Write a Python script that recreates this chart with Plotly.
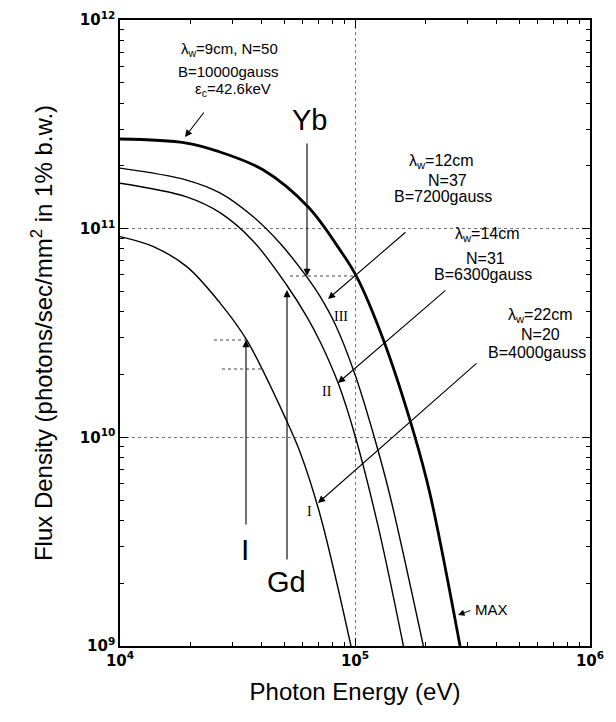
import math
import plotly.graph_objects as go

# ---- data (photon energy in eV, flux density) ----
max_energy = [10000, 18920, 25760, 40740, 63240, 86300, 101600, 131800, 177000, 208400, 279900]
max_flux = [2.69e11, 2.58e11, 2.36e11, 1.91e11, 1.27e11, 7.91e10, 5.89e10, 2.95e10, 1.07e10, 5.37e9, 1.0e9]

iii_energy = [10000, 19190, 26730, 36900, 47970, 62230, 70790, 83180, 100000, 121600, 140900, 195400]
iii_flux = [1.95e11, 1.71e11, 1.48e11, 1.14e11, 8.51e10, 5.89e10, 4.76e10, 3.40e10, 2.00e10, 9.77e9, 5.25e9, 1.0e9]

ii_energy = [10000, 19190, 26730, 36900, 51170, 62230, 70960, 84920, 100000, 125600, 160700]
ii_flux = [1.65e11, 1.42e11, 1.19e11, 8.71e10, 5.37e10, 3.80e10, 2.88e10, 1.81e10, 1.02e10, 3.72e9, 1.0e9]

i_energy = [10000, 13870, 19230, 26670, 34590, 51170, 58340, 70960, 96160]
i_flux = [9.16e10, 8.20e10, 6.58e10, 4.40e10, 2.93e10, 1.20e10, 8.51e9, 4.27e9, 1.0e9]

x_tick_values = [1e4, 1e5, 1e6]
y_tick_values = [1e9, 1e10, 1e11, 1e12]


def power_label(v):
    return "10<sup>%d</sup>" % round(math.log10(v))


# ---- layout geometry (page has an 8px body margin) ----
OFF = 8
PAGE_L, PAGE_R, PAGE_T, PAGE_B = 120, 590, 20, 646
W, H = 616 - OFF, 722 - OFF
L, T = PAGE_L - OFF, PAGE_T - OFF
R = W - (PAGE_R - OFF)
B = H - (PAGE_B - OFF)


def px(x, y):
    return (x - PAGE_L) / (PAGE_R - PAGE_L), (PAGE_B - y) / (PAGE_B - PAGE_T)


fig = go.Figure()
for xs, ys, w in [(max_energy, max_flux, 2.8), (iii_energy, iii_flux, 1.4),
                  (ii_energy, ii_flux, 1.4), (i_energy, i_flux, 1.4)]:
    fig.add_trace(go.Scatter(x=xs, y=ys, mode="lines",
                             line=dict(color="black", width=w, shape="spline", smoothing=1.0),
                             showlegend=False, hoverinfo="skip", cliponaxis=True))

FONT = "Liberation Sans, Arial, sans-serif"
annotations = []


def text(x, y, s, size=16, family=FONT, xanchor="center"):
    xp, yp = px(x, y)
    annotations.append(dict(x=xp, y=yp, xref="paper", yref="paper", text=s, showarrow=False,
                            font=dict(family=family, size=size, color="black"),
                            xanchor=xanchor, yanchor="middle"))


def arrow(tail, tip, head=2, width=1.1):
    xp, yp = px(*tip)
    annotations.append(dict(x=xp, y=yp, xref="paper", yref="paper", text="",
                            showarrow=True, arrowhead=head, arrowsize=1.3, arrowwidth=width,
                            arrowcolor="black", axref="pixel", ayref="pixel",
                            ax=tail[0] - tip[0], ay=tail[1] - tip[1], standoff=0, startstandoff=0))


# top-left label block (MAX curve)
text(229, 50, "λ<sub>w</sub>=9cm, N=50", size=15)
text(228, 71, "B=10000gauss", size=15)
text(233, 89, "ε<sub>c</sub>=42.6keV", size=15)
arrow((205, 111), (185, 137))

# λ=12cm block
text(441, 161, "λ<sub>w</sub>=12cm")
text(447, 180, "N=37")
text(443, 197, "B=7200gauss")
arrow((407, 231), (328, 299))
text(341, 316, "III", size=14, family="Liberation Serif, serif")

# λ=14cm block
text(487, 235, "λ<sub>w</sub>=14cm")
text(485, 258, "N=31")
text(483, 274, "B=6300gauss")
arrow((447, 289), (338, 383))
text(327, 392, "II", size=14, family="Liberation Serif, serif")

# λ=22cm block
text(540, 315, "λ<sub>w</sub>=22cm")
text(540, 335, "N=20")
text(537, 352, "B=4000gauss")
arrow((478, 362), (318, 503))
text(309, 511, "I", size=14, family="Liberation Serif, serif")

# K-edge markers
text(309, 120, "Yb", size=29)
arrow((307, 142), (307, 276))
text(245, 549, "I", size=30)
arrow((246, 526), (246, 340))
text(286, 582, "Gd", size=29)
arrow((287, 561), (287, 290))

# MAX marker
text(473, 609, "MAX", size=15, xanchor="left")
arrow((472, 610), (458, 615), width=1)

shapes = []
for (x0, x1, y) in [(290, 357, 276), (214, 246, 340), (222, 263, 369)]:
    a0, b0 = px(x0, y)
    a1, _ = px(x1, y)
    shapes.append(dict(type="line", xref="paper", yref="paper", x0=a0, x1=a1, y0=b0, y1=b0,
                       line=dict(color="#444", width=1, dash="dot")))

axis_common = dict(
    type="log", showline=True, linecolor="black", linewidth=1.5, mirror="allticks",
    ticks="inside", ticklen=8, tickwidth=1.2, tickcolor="black",
    showgrid=True, gridcolor="#777", griddash="dot", gridwidth=1,
    zeroline=False,
    tickfont=dict(family="DejaVu Sans", size=15, color="black", weight="bold"),
    minor=dict(ticks="inside", ticklen=4, tickwidth=1, tickcolor="black", showgrid=False, dtick="D1"),
)

fig.update_layout(
    width=W, height=H, margin=dict(l=L, r=R, t=T, b=B, autoexpand=False),
    paper_bgcolor="white", plot_bgcolor="white",
    xaxis=dict(axis_common, range=[4, 6], tickvals=x_tick_values,
               ticktext=[power_label(v) for v in x_tick_values],
               title=dict(text="Photon Energy (eV)", standoff=14,
                          font=dict(family=FONT, size=24, color="black"))),
    yaxis=dict(axis_common, range=[9, 12], tickvals=y_tick_values,
               ticktext=[power_label(v) for v in y_tick_values],
               title=dict(text="Flux Density (photons/sec/mm<sup>2</sup> in 1% b.w.)", standoff=20,
                          font=dict(family=FONT, size=24, color="black"))),
    annotations=annotations, shapes=shapes,
)

fig.write_html("out.html")
